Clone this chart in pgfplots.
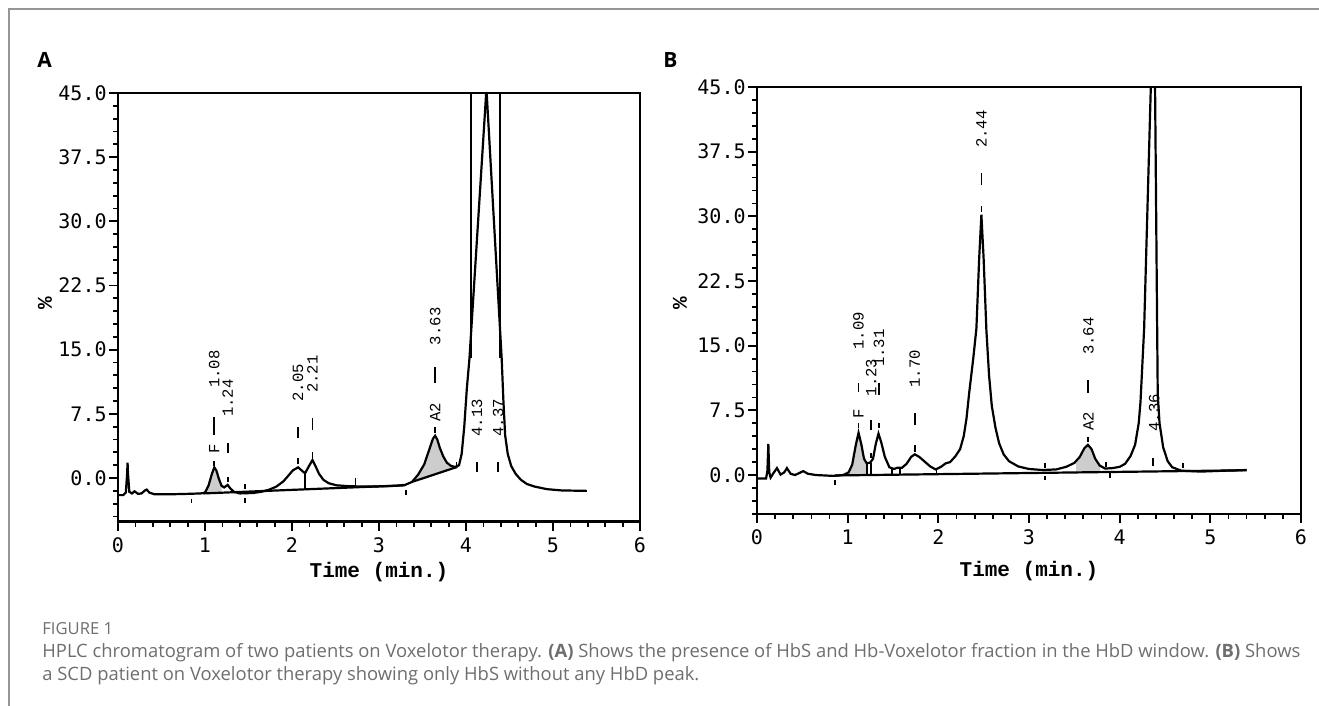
\documentclass[border=0pt]{standalone}
\usepackage{pgfplots}
\pgfplotsset{compat=1.18}
\usepackage{fontspec}
\setmainfont{Open Sans}
\newfontfamily\dmono{DejaVu Sans Mono}
\newfontfamily\lmono{Liberation Mono}
\definecolor{capgray}{RGB}{110,110,110}
\definecolor{framegray}{RGB}{150,150,150}
\definecolor{peakfill}{RGB}{205,205,205}

\pgfplotsset{
  hplc/.style={
    scale only axis, anchor=south west,
    xmin=0, xmax=6, ymax=45,
    xtick={0,...,6}, xticklabels={0,1,2,3,4,5,6},
    ytick={0,7.5,15,22.5,30,37.5,45},
    yticklabels={0.0,7.5,15.0,22.5,30.0,37.5,45.0},
    minor x tick num=4,
    minor ytick={-4.5,-3,...,43.5},
    tick pos=left, tick align=outside,
    major tick length=4.5pt, minor tick length=2.5pt,
    every tick/.style={black, line width=0.9pt},
    axis line style={black, line width=1.2pt},
    tick label style={font=\dmono\fontsize{10}{10}\selectfont},
    yticklabel style={inner sep=1pt},
  },
  trace/.style={black, line width=1.1pt},
  dash/.style={black, line width=0.9pt, unbounded coords=jump},
}
\newcommand\rt[3]{\node[rotate=90,anchor=west,inner sep=0pt,
  font=\lmono\fontsize{7.8}{8}\selectfont] at (axis cs:#1,#2) {#3};}
\newcommand\nm[3]{\node[rotate=90,anchor=center,inner sep=0pt,
  font=\lmono\fontsize{7.8}{8}\selectfont] at (axis cs:#1,#2) {#3};}

\begin{document}
\begin{tikzpicture}
\useasboundingbox (0,0) rectangle (659.5pt,-353pt);
\draw[framegray, line width=1pt] (4.65pt,-353pt) -- (4.65pt,-4.65pt) -- (659.5pt,-4.65pt);

% ---------------- panel A
\begin{axis}[hplc, at={(59pt,-260.75pt)}, width=261pt, height=214.25pt, ymin=-5.08]
% shaded peaks (F and A2)
\addplot[fill=peakfill, draw=none] coordinates {
  (1.00,-1.7)(1.04,-0.9)(1.08,0.5)(1.107,1.25)(1.13,0.9)(1.16,-0.1)(1.19,-0.9)
  (1.19,-1.72)(1.00,-1.79)};
\addplot[fill=peakfill, draw=none] coordinates {
  (3.38,-0.45)(3.45,0.4)(3.52,1.6)(3.58,3.4)(3.62,4.6)(3.645,4.95)(3.67,4.5)
  (3.70,3.5)(3.74,2.5)(3.78,1.8)(3.83,1.4)(3.88,1.3)(3.90,1.3)};
% baselines
\addplot[trace] coordinates {(0.98,-1.8) (3.30,-0.85)};
\addplot[trace] coordinates {(3.38,-0.45) (3.90,1.3)};
% chromatogram
\addplot[trace] table {
x y
0.00 -2.0
0.06 -2.0
0.09 -1.7
0.105 0.5
0.11 1.8
0.115 0.5
0.13 -1.6
0.16 -1.8
0.19 -1.55
0.23 -1.85
0.27 -1.8
0.31 -1.45
0.33 -1.35
0.36 -1.7
0.42 -1.9
0.60 -1.9
0.80 -1.85
0.95 -1.8
1.00 -1.7
1.04 -0.9
1.08 0.5
1.107 1.25
1.13 0.9
1.16 -0.1
1.19 -0.9
1.22 -1.1
1.26 -0.8
1.29 -1.2
1.33 -1.6
1.40 -1.8
1.55 -1.75
1.65 -1.6
1.74 -1.35
1.82 -1.0
1.90 -0.4
1.96 0.3
2.01 0.9
2.07 1.25
2.11 0.9
2.15 0.55
2.19 1.3
2.235 2.1
2.27 1.4
2.31 0.5
2.36 -0.2
2.42 -0.6
2.51 -0.85
2.65 -0.95
2.85 -1.0
3.05 -0.97
3.20 -0.9
3.30 -0.8
3.38 -0.45
3.45 0.4
3.52 1.6
3.58 3.4
3.62 4.6
3.645 4.95
3.67 4.5
3.70 3.5
3.74 2.5
3.78 1.8
3.83 1.4
3.88 1.3
3.92 1.5
3.95 2.8
3.98 6.0
4.01 10.5
4.04 14.0
4.235 45.5
4.41 14.0
4.43 9.0
4.45 5.0
4.48 2.8
4.52 1.4
4.57 0.5
4.63 -0.2
4.70 -0.7
4.79 -1.0
4.93 -1.3
5.10 -1.45
5.39 -1.5
};
% integration marks and off-scale lines
\addplot[dash] table {
x y
0.845 -2.5
0.845 -2.95
nan nan
1.107 1.45
1.107 1.95
nan nan
1.107 5.0
1.107 7.1
nan nan
1.26 -0.5
1.26 0.1
nan nan
1.26 2.9
1.26 4.1
nan nan
1.46 -0.7
1.46 -1.3
nan nan
1.46 -2.3
1.46 -2.9
nan nan
2.07 1.6
2.07 2.3
nan nan
2.07 4.7
2.07 6.0
nan nan
2.235 2.4
2.235 3.0
nan nan
2.235 5.6
2.235 7.0
nan nan
2.15 -1.27
2.15 0.55
nan nan
2.73 -0.8
2.73 0.0
nan nan
3.31 -1.4
3.31 -2.0
nan nan
3.645 5.3
3.645 6.0
nan nan
3.645 11.1
3.645 13.0
nan nan
3.89 1.3
3.89 1.9
nan nan
4.125 0.7
4.125 1.9
nan nan
4.37 0.7
4.37 1.9
nan nan
4.06 45
4.06 14
nan nan
4.39 45
4.39 14
};
\nm{1.107}{3.4}{F}
\rt{1.107}{10.5}{1.08}
\rt{1.26}{7.1}{1.24}
\rt{2.07}{8.9}{2.05}
\rt{2.235}{9.9}{2.21}
\nm{3.645}{7.65}{A2}
\rt{3.645}{15.5}{3.63}
\rt{4.125}{4.8}{4.13}
\rt{4.37}{4.8}{4.37}
\end{axis}

% ---------------- panel B
\begin{axis}[hplc, at={(378.5pt,-257pt)}, width=272pt, height=213.5pt, ymin=-4.52]
\addplot[fill=peakfill, draw=none] coordinates {
  (1.01,0.3)(1.05,1.2)(1.09,3.5)(1.12,4.9)(1.15,3.6)(1.18,1.9)(1.21,1.35)
  (1.21,-0.05)(1.01,-0.08)};
\addplot[fill=peakfill, draw=none] coordinates {
  (3.52,1.6)(3.56,2.1)(3.61,3.1)(3.65,3.5)(3.69,3.0)(3.73,1.9)(3.78,1.1)
  (3.79,0.35)(3.52,0.3)};
\addplot[trace] coordinates {(0.86,-0.05) (5.40,0.55)};
\addplot[trace] table {
x y
0.00 -0.4
0.10 -0.4
0.115 0.5
0.125 3.6
0.135 0.3
0.15 -0.3
0.18 0.2
0.22 0.8
0.26 0.05
0.30 0.3
0.33 0.8
0.37 0.15
0.42 0.0
0.47 0.25
0.51 0.45
0.56 0.15
0.65 0.0
0.84 -0.1
0.95 0.0
1.01 0.3
1.05 1.2
1.09 3.5
1.12 4.9
1.15 3.6
1.18 1.9
1.21 1.35
1.25 1.45
1.28 1.9
1.31 3.6
1.34 4.8
1.37 3.8
1.41 2.1
1.46 0.9
1.51 0.7
1.55 0.85
1.60 0.85
1.65 1.3
1.70 2.1
1.74 2.4
1.79 2.1
1.85 1.55
1.91 1.0
1.97 0.65
2.03 0.95
2.08 1.35
2.13 1.5
2.19 2.2
2.24 3.0
2.28 4.5
2.31 6.5
2.34 9.5
2.385 13.5
2.42 17.0
2.45 25.0
2.475 30.2
2.50 25.0
2.53 16.8
2.56 11.5
2.59 8.0
2.63 5.5
2.67 3.7
2.72 2.4
2.78 1.6
2.88 1.0
3.00 0.7
3.15 0.58
3.30 0.65
3.41 0.95
3.50 1.4
3.56 2.1
3.61 3.1
3.65 3.5
3.69 3.0
3.73 1.9
3.78 1.1
3.84 0.75
3.92 0.8
4.00 0.95
4.06 1.3
4.12 2.2
4.17 3.5
4.21 6.0
4.23 8.5
4.27 17.0
4.345 45.5
4.37 52.0
4.39 45.5
4.42 9.3
4.44 6.0
4.48 3.2
4.53 1.6
4.58 0.9
4.68 0.5
4.90 0.4
5.15 0.5
5.40 0.58
};
\addplot[dash] table {
x y
0.86 -0.6
0.86 -1.15
nan nan
1.12 5.45
1.12 6.0
nan nan
1.12 9.6
1.12 10.7
nan nan
1.21 -0.05
1.21 1.35
nan nan
1.26 -0.04
1.26 1.45
nan nan
1.26 2.0
1.26 2.5
nan nan
1.26 5.2
1.26 6.4
nan nan
1.345 5.4
1.345 6.0
nan nan
1.345 9.3
1.345 10.7
nan nan
1.485 0.04
1.485 0.8
nan nan
1.58 0.05
1.58 0.85
nan nan
1.74 2.7
1.74 3.5
nan nan
1.74 5.8
1.74 7.2
nan nan
1.98 0.13
1.98 0.65
nan nan
2.475 30.5
2.475 31.2
nan nan
2.475 33.6
2.475 35.0
nan nan
3.175 0.8
3.175 1.4
nan nan
3.175 -0.1
3.175 -0.6
nan nan
3.655 3.8
3.655 4.4
nan nan
3.655 9.5
3.655 11.0
nan nan
3.85 0.97
3.85 1.55
nan nan
3.89 0.2
3.89 -0.4
nan nan
4.37 1.0
4.37 2.0
nan nan
4.70 0.8
4.70 1.4
};
\nm{1.12}{7.1}{F}
\rt{1.12}{14.5}{1.09}
\rt{1.26}{9.1}{1.23}
\rt{1.345}{12.5}{1.31}
\rt{1.74}{10.1}{1.70}
\rt{2.475}{37.9}{2.44}
\nm{3.655}{6.25}{A2}
\rt{3.655}{13.9}{3.64}
\rt{4.38}{5.0}{4.36}
\end{axis}

% labels outside the axes
\node[anchor=base west, inner sep=0pt, font=\bfseries\fontsize{10.5}{10.5}\selectfont] at (18.5pt,-34pt) {A};
\node[anchor=base west, inner sep=0pt, font=\bfseries\fontsize{10.5}{10.5}\selectfont] at (331.5pt,-34pt) {B};
\node[rotate=90, inner sep=0pt, font=\lmono\bfseries\fontsize{10.5}{10.5}\selectfont] at (22.5pt,-151.5pt) {\%};
\node[rotate=90, inner sep=0pt, font=\lmono\bfseries\fontsize{10.5}{10.5}\selectfont] at (340pt,-151.5pt) {\%};
\node[inner sep=0pt, font=\lmono\bfseries\fontsize{10.5}{10.5}\selectfont] at (189.5pt,-286pt) {Time (min.)};
\node[inner sep=0pt, font=\lmono\bfseries\fontsize{10.5}{10.5}\selectfont] at (514.5pt,-285.75pt) {Time (min.)};

\node[anchor=base west, inner sep=0pt, text=capgray, font=\fontsize{8.3}{8.3}\selectfont] at (21pt,-317pt) {FIGURE 1};
\node[anchor=base west, inner sep=0pt, text=capgray, font=\fontsize{9.2}{9.2}\selectfont] at (21pt,-328.6pt)
  {HPLC chromatogram of two patients on Voxelotor therapy. \textbf{(A)} Shows the presence of HbS and Hb-Voxelotor fraction in the HbD window. \textbf{(B)} Shows};
\node[anchor=base west, inner sep=0pt, text=capgray, font=\fontsize{9.2}{9.2}\selectfont] at (21pt,-340.3pt)
  {a SCD patient on Voxelotor therapy showing only HbS without any HbD peak.};
\end{tikzpicture}
\end{document}
